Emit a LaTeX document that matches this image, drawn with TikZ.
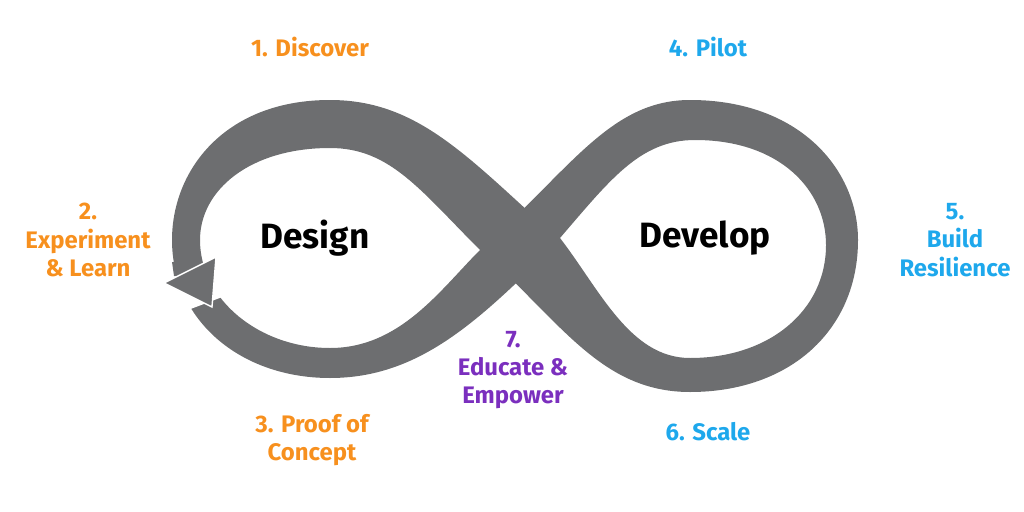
\documentclass[tikz,border=0pt]{standalone}
\usepackage{fontspec}
\setmainfont{Fira Sans}
\usetikzlibrary{positioning}
\definecolor{loopgray}{HTML}{6D6E70}
\definecolor{designorange}{HTML}{F7901E}
\definecolor{developblue}{HTML}{1EA8EC}
\definecolor{eduviolet}{HTML}{7B2FBE}
\tikzset{
  steplabel/.style={font=\fontsize{17}{20}\selectfont\bfseries, align=center},
  phase/.style={font=\fontsize{25}{29}\selectfont\bfseries, text=black}
}
\begin{document}
\begin{tikzpicture}[x=0.025cm, y=-0.025cm]
    \useasboundingbox (0,0) rectangle (1024,512);

    % Left lobe
    \fill[loopgray, even odd rule]
      (560,240) .. controls (470,160) and (420,100) .. (330,100)
      .. controls (225,100) and (172,170) .. (172,240)
      .. controls (172,320) and (240,378) .. (330,378)
      .. controls (420,378) and (480,320) .. cycle
      (480,250) .. controls (420,190) and (390,148) .. (330,148)
      .. controls (250,148) and (200,190) .. (200,240)
      .. controls (200,300) and (260,348) .. (330,348)
      .. controls (400,348) and (440,290) .. cycle;

    % Right lobe
    \fill[loopgray, even odd rule]
      (480,250) .. controls (570,170) and (610,100) .. (690,100)
      .. controls (800,100) and (858,170) .. (858,240)
      .. controls (858,330) and (790,392) .. (690,392)
      .. controls (600,392) and (560,320) .. cycle
      (560,238) .. controls (610,180) and (640,140) .. (695,140)
      .. controls (780,140) and (826,190) .. (826,245)
      .. controls (826,310) and (770,358) .. (690,358)
      .. controls (630,358) and (600,290) .. cycle;

    % Gap and arrowhead
    \fill[white] (160,272) -- (225,262) -- (225,296) -- (180,313) -- cycle;
    \fill[loopgray] (172,262) -- (200,262) -- (202,276) -- (174,276) -- cycle;
    \fill[loopgray, draw=white, line width=1pt]
      (164,283) -- (216,257) -- (212,307) -- cycle;

    % Phases
    \node[phase] (design) at (315,238) {Design};
    \node[phase] (develop) at (705,238) {Develop};

    % Steps
    \node[steplabel, text=designorange] (discover) at (310,47) {1. Discover};
    \node[steplabel, text=designorange] (experiment) at (88,240) {2.\\Experiment\\\& Learn};
    \node[steplabel, text=designorange] (proof) at (312,440) {3. Proof of\\Concept};
    \node[steplabel, text=developblue] (pilot) at (708,47) {4. Pilot};
    \node[steplabel, text=developblue] (resilience) at (955,240) {5.\\Build\\Resilience};
    \node[steplabel, text=developblue] (scale) at (708,432) {6. Scale};
    \node[steplabel, text=eduviolet] (educate) at (513,370) {7.\\Educate \&\\Empower};
\end{tikzpicture}
\end{document}
